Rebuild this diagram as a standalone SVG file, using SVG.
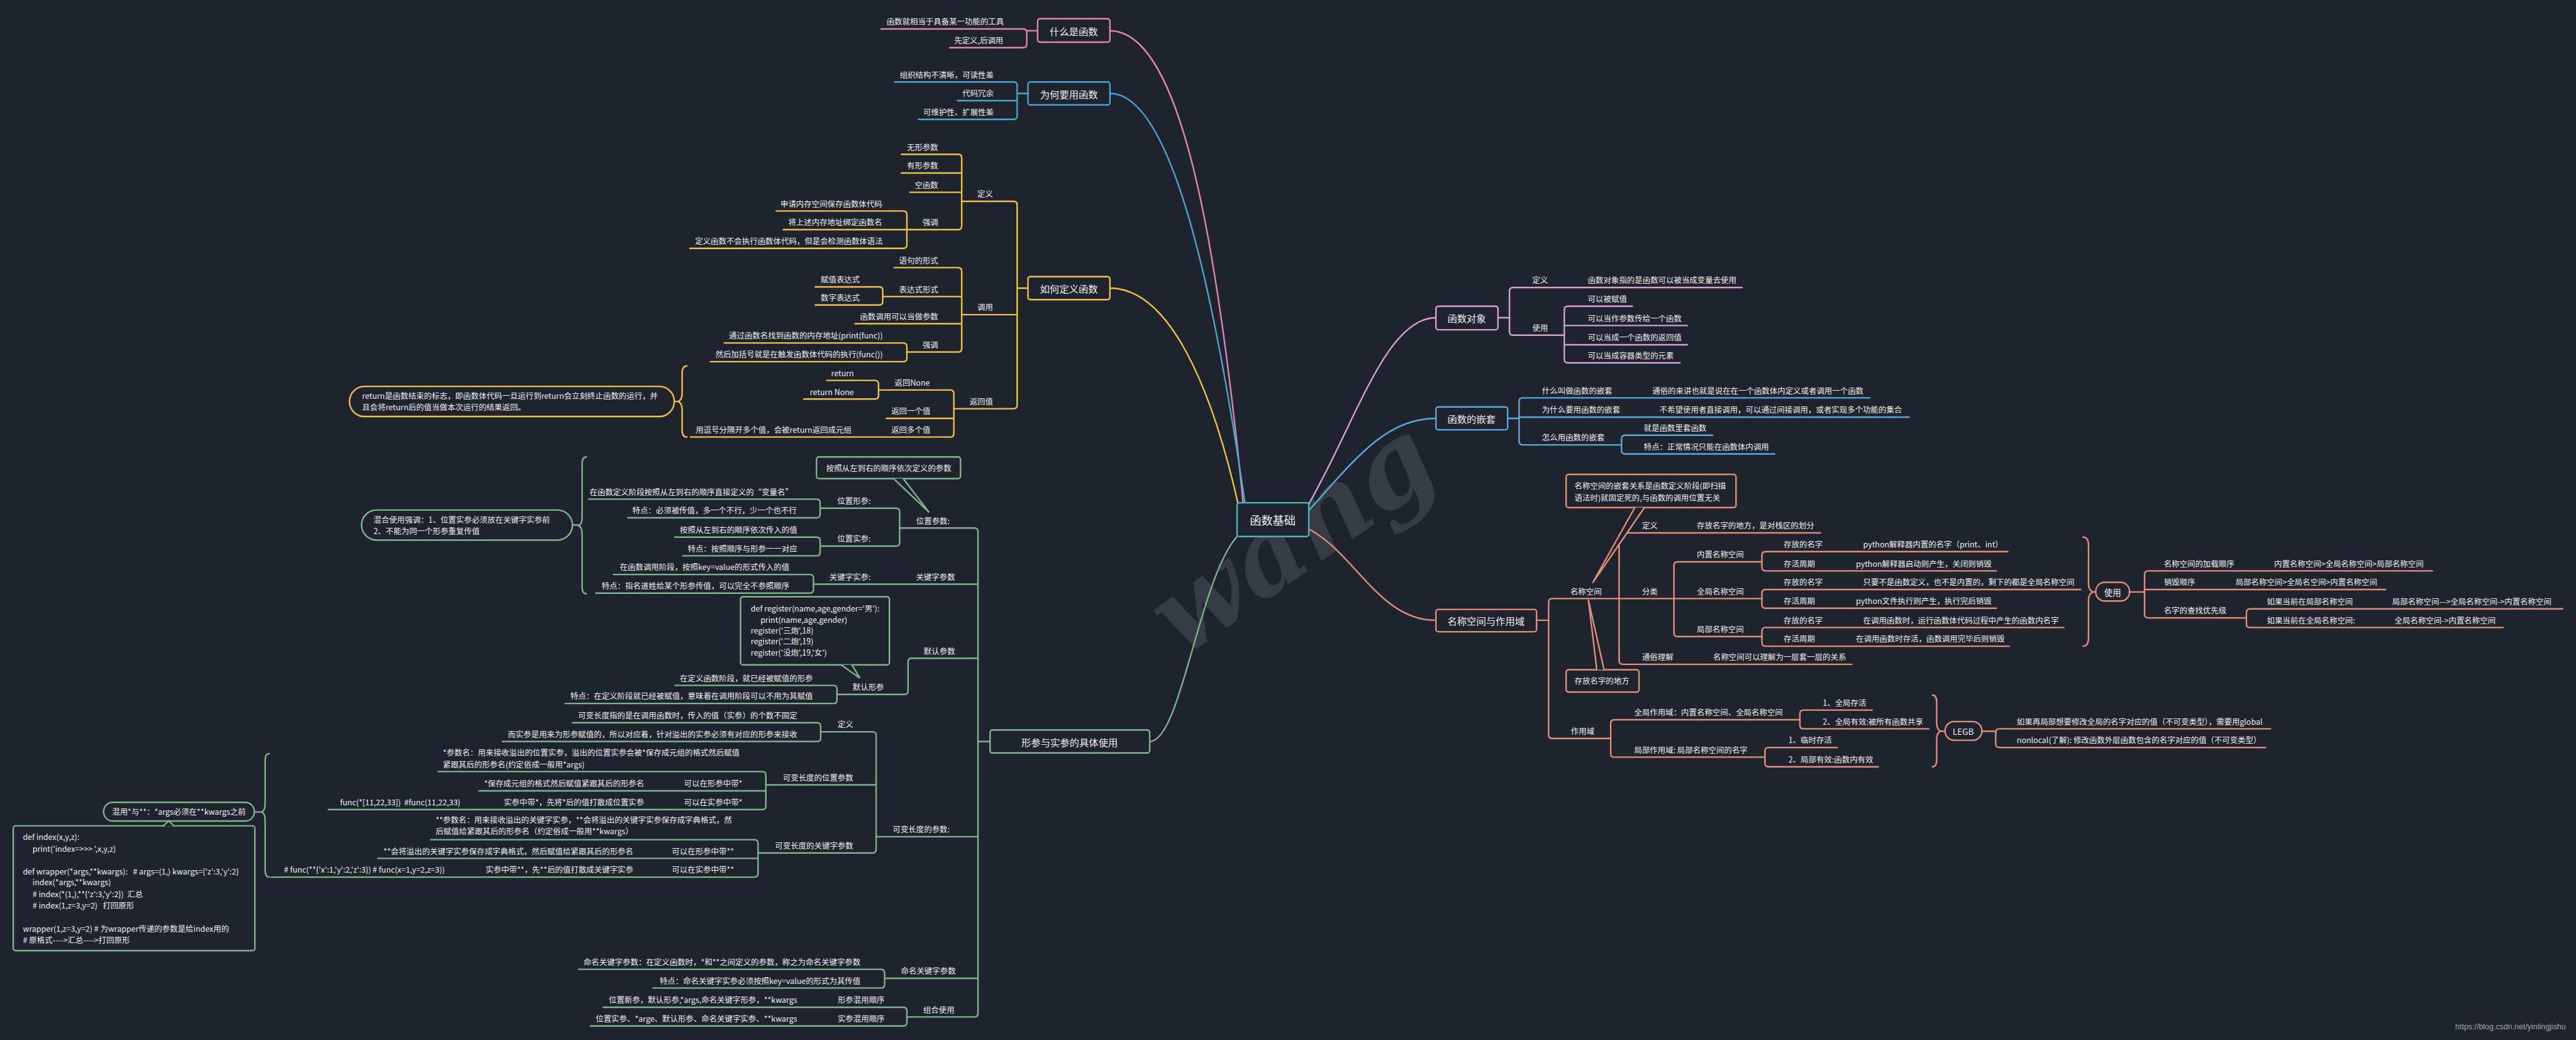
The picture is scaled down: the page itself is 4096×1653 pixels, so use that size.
<svg xmlns="http://www.w3.org/2000/svg" width="4096" height="1653" viewBox="0 0 4096 1653">
<defs>
<style>
.t{font-family:"Noto Sans CJK SC","Noto Sans",sans-serif;font-size:13px;fill:#f0f0f0}
.e{text-anchor:end}
.n{font-size:16px;text-anchor:middle;dominant-baseline:central}
.s{fill:none;stroke-width:2.5;stroke-linecap:round;stroke-linejoin:round}
.b{fill:#1f232e;stroke-width:2.5}
.c1{stroke:#e087b4}.c2{stroke:#4aa6cb}.c3{stroke:#f0c14b}.c4{stroke:#7fb48c}
.c5{stroke:#d6a2cc}.c6{stroke:#5aaadf}.c7{stroke:#df907b}.c0{stroke:#4db6bd}
</style>
</defs>
<rect width="4096" height="1653" fill="#1f232e"/>
<g transform="scale(0.95813)">
<text x="2150" y="950" transform="rotate(-35 2150 900)" font-family="DejaVu Serif" font-style="italic" font-weight="bold" font-size="180" fill="#373b44" text-anchor="middle">wang</text>

<g id="connectors" class="s">
<path class="c1" d="M1842 51 C1960 51 2020 400 2063 834"/>
<path class="c2" d="M1842 155 C1940 155 2010 450 2066 834"/>
<path class="c3" d="M1842 478 C1940 478 2010 640 2054 833"/>
<path class="c4" d="M2053 890 C1990 960 1960 1230 1908 1230"/>
<path class="c5" d="M2172 836 C2250 700 2300 527 2383 527"/>
<path class="c6" d="M2172 847 C2250 760 2300 694 2383 694"/>
<path class="c7" d="M2173 878 C2250 920 2290 1029 2382 1029"/>
<path class="c1" d="M1462 48 H1698 Q1704 48 1704 54 V73 Q1704 79 1698 79 H1576 M1704 51 H1722"/>
<path class="c2" d="M1485 136 H1682 Q1688 136 1688 142 V192 Q1688 198 1682 198 H1524 M1589 167 H1688 M1688 155 H1706"/>
<path class="c3" d="M1596 334 H1682 Q1688 334 1688 340 V672 Q1688 678 1682 678 H1583 M1596 522 H1688 M1688 478 H1706"/>
<path class="c3" d="M1496 256 H1590 Q1596 256 1596 262 V375 Q1596 381 1590 381 H1505 M1496 287 H1596 M1510 319 H1596"/>
<path class="c3" d="M1288 350 H1499 Q1505 350 1505 356 V406 Q1505 412 1499 412 H1145 M1300 381 H1505"/>
<path class="c3" d="M1484 444 H1590 Q1596 444 1596 450 V578 Q1596 584 1590 584 H1505 M1465 492 H1596 M1419 537 H1596"/>
<path class="c3" d="M1353 476 H1459 Q1465 476 1465 482 V500 Q1465 506 1459 506 H1353"/>
<path class="c3" d="M1202 569 H1499 Q1505 569 1505 575 V594 Q1505 600 1499 600 H1179"/>
<path class="c3" d="M1458 647 H1577 Q1583 647 1583 653 V719 Q1583 725 1577 725 H1146 M1471 694 H1583"/>
<path class="c3" d="M1372 631 H1452 Q1458 631 1458 637 V656 Q1458 662 1452 662 H1334"/>
<path class="c3" d="M1140 607 Q1132 607 1132 619 V652 Q1132 664 1125 666 Q1132 668 1132 680 V713 Q1132 725 1140 725 M1119 666 H1125"/>
<path class="c4" d="M1493 876 H1617 Q1623 876 1623 882 V1681 Q1623 1687 1617 1687 H1505 M1350 969 H1623 M1454 1388 H1623 M1468 1623 H1623 M1623 1230 H1643"/>
<path class="c4" d="M1623 1092 H1513 Q1507 1092 1507 1098 V1146 Q1507 1152 1501 1152 H1389"/>
<path class="c4" d="M1361 843 H1487 Q1493 843 1493 849 V900 Q1493 906 1487 906 H1361"/>
<path class="c4" d="M977 828 H1355 Q1361 828 1361 834 V853 Q1361 859 1355 859 H1042"/>
<path class="c4" d="M1120 891 H1355 Q1361 891 1361 897 V916 Q1361 922 1355 922 H1133"/>
<path class="c4" d="M1018 953 H1344 Q1350 953 1350 959 V978 Q1350 984 1344 984 H989"/>
<path class="c4" d="M1120 1137 H1383 Q1389 1137 1389 1143 V1161 Q1389 1167 1383 1167 H938"/>
<path class="c4" d="M1362 1214 H1448 Q1454 1214 1454 1220 V1409 Q1454 1415 1448 1415 H1258 M1271 1302 H1454"/>
<path class="c4" d="M950 1199 H1356 Q1362 1199 1362 1205 V1224 Q1362 1230 1356 1230 H834"/>
<path class="c4" d="M727 1280 H1265 Q1271 1280 1271 1286 V1337 Q1271 1343 1265 1343 H545 M795 1312 H1271"/>
<path class="c4" d="M715 1393 H1252 Q1258 1393 1258 1399 V1449 Q1258 1455 1252 1455 H450 M627 1424 H1258"/>
<path class="c4" d="M960 1608 H1462 Q1468 1608 1468 1614 V1633 Q1468 1639 1462 1639 H1084"/>
<path class="c4" d="M1001 1671 H1499 Q1505 1671 1505 1677 V1696 Q1505 1702 1499 1702 H980"/>
<path class="c4" d="M973 758 Q966 758 966 770 V858 Q966 870 960 872 Q966 874 966 886 V973 Q966 985 973 985 M950 871 H960"/>
<path class="c4" d="M447 1250 Q440 1250 440 1262 V1333 Q440 1345 434 1347 Q440 1349 440 1361 V1443 Q440 1455 447 1455 M422 1347 H434"/>
<path class="c5" d="M2891 477 H2511 Q2505 477 2505 483 V550 Q2505 556 2511 556 H2596 M2486 527 H2505"/>
<path class="c5" d="M2709 508 H2602 Q2596 508 2596 514 V596 Q2596 602 2602 602 H2788 M2596 540 H2800 M2596 572 H2800"/>
<path class="c6" d="M3103 660 H2527 Q2521 660 2521 666 V732 Q2521 738 2527 738 H2691 M2521 692 H3168 M2502 694 H2521"/>
<path class="c6" d="M2842 722 H2697 Q2691 722 2691 728 V747 Q2691 753 2697 753 H2945"/>
<path class="c7" d="M2687 993 H2576 Q2570 993 2570 999 V1219 Q2570 1225 2576 1225 H2673 M2550 1029 H2570"/>
<path class="c7" d="M3021 884 H2693 Q2687 884 2687 890 V1096 Q2687 1102 2693 1102 H3073 M2687 993 H2778"/>
<path class="c7" d="M2924 932 H2784 Q2778 932 2778 938 V1050 Q2778 1056 2784 1056 H2924 M2778 993 H2924"/>
<path class="c7" d="M3332 915 H2930 Q2924 915 2924 921 V941 Q2924 947 2930 947 H3313"/>
<path class="c7" d="M3453 978 H2930 Q2924 978 2924 984 V1003 Q2924 1009 2930 1009 H3313"/>
<path class="c7" d="M3425 1041 H2930 Q2924 1041 2924 1047 V1066 Q2924 1072 2930 1072 H3334"/>
<path class="c7" d="M2987 1194 H2679 Q2673 1194 2673 1200 V1250 Q2673 1256 2679 1256 H2929"/>
<path class="c7" d="M3107 1178 H2993 Q2987 1178 2987 1184 V1203 Q2987 1209 2993 1209 H3201"/>
<path class="c7" d="M3049 1240 H2935 Q2929 1240 2929 1246 V1266 Q2929 1272 2935 1272 H3117"/>
<path class="c7" d="M3207 1153 Q3214 1153 3214 1165 V1199 Q3214 1211 3221 1213 Q3214 1215 3214 1227 V1260 Q3214 1272 3207 1272 M3221 1213 H3228 M3289 1213 H3312"/>
<path class="c7" d="M3768 1209 H3318 Q3312 1209 3312 1215 V1234 Q3312 1240 3318 1240 H3760"/>
<path class="c7" d="M3457 891 Q3466 891 3466 905 V968 Q3466 980 3474 982 Q3466 984 3466 996 V1058 Q3466 1072 3457 1072 M3474 982 H3478 M3534 982 H3559"/>
<path class="c7" d="M4037 947 H3565 Q3559 947 3559 953 V1019 Q3559 1025 3565 1025 H3728 M3559 978 H3959"/>
<path class="c7" d="M4253 1010 H3734 Q3728 1010 3728 1016 V1035 Q3728 1041 3734 1041 H4154"/>
</g>

<g id="root">
<rect class="b c0" x="2053" y="834" width="119" height="56" rx="4"/>
<text class="t n" x="2112" y="862" style="font-size:19px">函数基础</text>
</g>

<g id="what">
<rect class="b c1" x="1722" y="31" width="120" height="39" rx="4"/>
<text class="t n" x="1782" y="51">什么是函数</text>
<text class="t e" x="1666" y="41">函数就相当于具备某一功能的工具</text>
<text class="t e" x="1665" y="72">先定义,后调用</text>
</g>

<g id="why">
<rect class="b c2" x="1706" y="136" width="136" height="38" rx="4"/>
<text class="t n" x="1774" y="155">为何要用函数</text>
<text class="t e" x="1649" y="129">组织结构不清晰，可读性差</text>
<text class="t e" x="1649" y="160">代码冗余</text>
<text class="t e" x="1649" y="191">可维护性、扩展性差</text>
</g>

<g id="define">
<rect class="b c3" x="1706" y="459" width="136" height="38" rx="4"/>
<text class="t n" x="1774" y="478">如何定义函数</text>
<text class="t e" x="1648" y="327">定义</text>
<text class="t e" x="1648" y="515">调用</text>
<text class="t e" x="1648" y="671">返回值</text>
<text class="t e" x="1557" y="249">无形参数</text>
<text class="t e" x="1557" y="280">有形参数</text>
<text class="t e" x="1557" y="312">空函数</text>
<text class="t e" x="1557" y="374">强调</text>
<text class="t e" x="1464" y="343">申请内存空间保存函数体代码</text>
<text class="t e" x="1464" y="374">将上述内存地址绑定函数名</text>
<text class="t e" x="1465" y="405">定义函数不会执行函数体代码，但是会检测函数体语法</text>
<text class="t e" x="1557" y="437">语句的形式</text>
<text class="t e" x="1557" y="485">表达式形式</text>
<text class="t e" x="1557" y="530">函数调用可以当做参数</text>
<text class="t e" x="1557" y="577">强调</text>
<text class="t e" x="1427" y="469">赋值表达式</text>
<text class="t e" x="1427" y="499">数字表达式</text>
<text class="t e" x="1465" y="562">通过函数名找到函数的内存地址(print(func))</text>
<text class="t e" x="1465" y="593">然后加括号就是在触发函数体代码的执行(func())</text>
<text class="t e" x="1543" y="640">返回None</text>
<text class="t e" x="1544" y="687">返回一个值</text>
<text class="t e" x="1544" y="718">返回多个值</text>
<text class="t e" x="1413" y="718">用逗号分隔开多个值，会被return返回成元组</text>
<text class="t e" x="1417" y="624">return</text>
<text class="t e" x="1417" y="655">return None</text>
<rect class="b c3" x="580" y="641" width="539" height="50" rx="25"/>
<text class="t" x="601" y="662">return是函数结束的标志，即函数体代码一旦运行到return会立刻终止函数的运行，并</text>
<text class="t" x="601" y="681">且会将return后的值当做本次运行的结果返回。</text>
</g>

<g id="params">
<rect class="b c4" x="1643" y="1211" width="265" height="38" rx="4"/>
<text class="t n" x="1775" y="1230">形参与实参的具体使用</text>
<text class="t e" x="1576" y="869">位置参数:</text>
<text class="t e" x="1445" y="836">位置形参:</text>
<text class="t e" x="1316" y="821">在函数定义阶段按照从左到右的顺序直接定义的“变量名”</text>
<text class="t e" x="1322" y="852">特点：必须被传值，多一个不行，少一个也不行</text>
<text class="t e" x="1445" y="899">位置实参:</text>
<text class="t e" x="1323" y="884">按照从左到右的顺序依次传入的值</text>
<text class="t e" x="1323" y="915">特点：按照顺序与形参一一对应</text>
<text class="t e" x="1585" y="962">关键字参数</text>
<text class="t e" x="1445" y="962">关键字实参:</text>
<text class="t e" x="1310" y="946">在函数调用阶段，按照key=value的形式传入的值</text>
<text class="t e" x="1310" y="977">特点：指名道姓给某个形参传值，可以完全不参照顺序</text>
<text class="t e" x="1585" y="1085">默认参数</text>
<text class="t e" x="1467" y="1145">默认形参</text>
<text class="t e" x="1349" y="1130">在定义函数阶段，就已经被赋值的形参</text>
<text class="t e" x="1349" y="1160">特点：在定义阶段就已经被赋值，意味着在调用阶段可以不用为其赋值</text>
<text class="t e" x="1576" y="1381">可变长度的参数:</text>
<text class="t e" x="1416" y="1207">定义</text>
<text class="t e" x="1323" y="1192">可变长度指的是在调用函数时，传入的值（实参）的个数不固定</text>
<text class="t e" x="1323" y="1223">而实参是用来为形参赋值的，所以对应着，针对溢出的实参必须有对应的形参来接收</text>
<text class="t e" x="1416" y="1295">可变长度的位置参数</text>
<text class="t" x="735" y="1253">*参数名：用来接收溢出的位置实参，溢出的位置实参会被*保存成元组的格式然后赋值</text>
<text class="t" x="735" y="1273">紧跟其后的形参名(约定俗成一般用*args)</text>
<text class="t e" x="1232" y="1305">可以在形参中带*</text>
<text class="t e" x="1069" y="1305">*保存成元组的格式然后赋值紧跟其后的形参名</text>
<text class="t e" x="1232" y="1336">可以在实参中带*</text>
<text class="t e" x="1069" y="1336">实参中带*，先将*后的值打散成位置实参</text>
<text class="t e" x="764" y="1336" xml:space="preserve">func(*[11,22,33])  #func(11,22,33)</text>
<text class="t e" x="1416" y="1408">可变长度的关键字参数</text>
<text class="t" x="723" y="1365">**参数名：用来接收溢出的关键字实参，**会将溢出的关键字实参保存成字典格式，然</text>
<text class="t" x="723" y="1384">后赋值给紧跟其后的形参名（约定俗成一般用**kwargs）</text>
<text class="t e" x="1218" y="1417">可以在形参中带**</text>
<text class="t e" x="1051" y="1417">**会将溢出的关键字实参保存成字典格式，然后赋值给紧跟其后的形参名</text>
<text class="t e" x="1218" y="1448">可以在实参中带**</text>
<text class="t e" x="1051" y="1448">实参中带**，先**后的值打散成关键字实参</text>
<text class="t e" x="738" y="1448"># func(**{'x':1,'y':2,'z':3}) # func(x=1,y=2,z=3))</text>
<text class="t e" x="1586" y="1616">命名关键字参数</text>
<text class="t e" x="1428" y="1601">命名关键字参数：在定义函数时，*和**之间定义的参数，称之为命名关键字参数</text>
<text class="t e" x="1428" y="1632">特点：命名关键字实参必须按照key=value的形式为其传值</text>
<text class="t e" x="1584" y="1680">组合使用</text>
<text class="t e" x="1468" y="1664">形参混用顺序</text>
<text class="t e" x="1323" y="1664">位置新参，默认形参,*args,命名关键字形参，**kwargs</text>
<text class="t e" x="1468" y="1695">实参混用顺序</text>
<text class="t e" x="1323" y="1695">位置实参、*arge、默认形参、命名关键字实参、**kwargs</text>
<rect class="b c4" x="1355" y="758" width="239" height="36" rx="4"/>
<path class="b c4" d="M1483 794 L1542 850 L1499 794"/>
<text class="t n" x="1475" y="776" style="font-size:13px">按照从左到右的顺序依次定义的参数</text>
<rect class="b c4" x="1229" y="990" width="247" height="113" rx="4"/>
<path class="b c4" d="M1396 1103 L1427 1125 L1414 1103"/>
<text class="t" x="1246" y="1014">def register(name,age,gender='男'):</text>
<text class="t" x="1262" y="1033">print(name,age,gender)</text>
<text class="t" x="1246" y="1051">register('三炮',18)</text>
<text class="t" x="1246" y="1069">register('二炮',19)</text>
<text class="t" x="1246" y="1088">register('没炮',19,'女')</text>
<rect class="b c4" x="600" y="846" width="350" height="50" rx="25"/>
<text class="t" x="620" y="867">混合使用强调：1、位置实参必须放在关键字实参前</text>
<text class="t" x="620" y="886">2、不能为同一个形参重复传值</text>
<rect class="b c4" x="172" y="1331" width="250" height="31" rx="15"/>
<text class="t" x="186" y="1352">混用*与**：*args必须在**kwargs之前</text>
<rect class="b c4" x="22" y="1370" width="401" height="207" rx="4"/>
<path class="b c4" d="M270 1371 L280 1362 L290 1371"/>
<text class="t" x="38" y="1393">def index(x,y,z):</text>
<text class="t" x="54" y="1413">print('index=&gt;&gt;&gt; ',x,y,z)</text>
<text class="t" x="38" y="1451" xml:space="preserve">def wrapper(*args,**kwargs):   # args=(1,) kwargs={'z':3,'y':2}</text>
<text class="t" x="54" y="1469">index(*args,**kwargs)</text>
<text class="t" x="54" y="1488" xml:space="preserve"># index(*(1,),**{'z':3,'y':2})  汇总</text>
<text class="t" x="54" y="1507" xml:space="preserve"># index(1,z=3,y=2)   打回原形</text>
<text class="t" x="38" y="1546">wrapper(1,z=3,y=2) # 为wrapper传递的参数是给index用的</text>
<text class="t" x="38" y="1564"># 原格式----&gt;汇总----&gt;打回原形</text>
</g>

<g id="funcobj">
<rect class="b c5" x="2383" y="508" width="103" height="39" rx="4"/>
<text class="t n" x="2434" y="527">函数对象</text>
<text class="t" x="2543" y="470">定义</text>
<text class="t" x="2635" y="470">函数对象指的是函数可以被当成变量去使用</text>
<text class="t" x="2543" y="549">使用</text>
<text class="t" x="2635" y="501">可以被赋值</text>
<text class="t" x="2635" y="533">可以当作参数传给一个函数</text>
<text class="t" x="2635" y="565">可以当成一个函数的返回值</text>
<text class="t" x="2635" y="595">可以当成容器类型的元素</text>
</g>

<g id="nested">
<rect class="b c6" x="2383" y="675" width="119" height="38" rx="4"/>
<text class="t n" x="2442" y="694">函数的嵌套</text>
<text class="t" x="2559" y="653">什么叫做函数的嵌套</text>
<text class="t" x="2742" y="653">通俗的来讲也就是说在在一个函数体内定义或者调用一个函数</text>
<text class="t" x="2559" y="685">为什么要用函数的嵌套</text>
<text class="t" x="2754" y="685">不希望使用者直接调用，可以通过间接调用，或者实现多个功能的集合</text>
<text class="t" x="2559" y="731">怎么用函数的嵌套</text>
<text class="t" x="2728" y="715">就是函数里套函数</text>
<text class="t" x="2728" y="746">特点：正常情况只能在函数体内调用</text>
</g>

<g id="namespace">
<rect class="b c7" x="2383" y="1011" width="167" height="37" rx="4"/>
<text class="t n" x="2466" y="1029">名称空间与作用域</text>
<text class="t" x="2606" y="986">名称空间</text>
<text class="t" x="2725" y="877">定义</text>
<text class="t" x="2816" y="877">存放名字的地方，是对栈区的划分</text>
<text class="t" x="2725" y="986">分类</text>
<text class="t" x="2816" y="925">内置名称空间</text>
<text class="t" x="2960" y="908">存放的名字</text>
<text class="t" x="3092" y="908">python解释器内置的名字（print、int）</text>
<text class="t" x="2960" y="940">存活周期</text>
<text class="t" x="3080" y="940">python解释器启动则产生，关闭则销毁</text>
<text class="t" x="2816" y="986">全局名称空间</text>
<text class="t" x="2960" y="971">存放的名字</text>
<text class="t" x="3092" y="971">只要不是函数定义，也不是内置的，剩下的都是全局名称空间</text>
<text class="t" x="2960" y="1002">存活周期</text>
<text class="t" x="3080" y="1002">python文件执行则产生，执行完后销毁</text>
<text class="t" x="2816" y="1049">局部名称空间</text>
<text class="t" x="2960" y="1034">存放的名字</text>
<text class="t" x="3092" y="1034">在调用函数时，运行函数体代码过程中产生的函数内名字</text>
<text class="t" x="2960" y="1065">存活周期</text>
<text class="t" x="3080" y="1065">在调用函数时存活，函数调用完毕后则销毁</text>
<text class="t" x="2725" y="1095">通俗理解</text>
<text class="t" x="2843" y="1095">名称空间可以理解为一层套一层的关系</text>
<text class="t" x="2607" y="1218">作用域</text>
<text class="t" x="2712" y="1187">全局作用域：内置名称空间、全局名称空间</text>
<text class="t" x="3025" y="1171">1、全局存活</text>
<text class="t" x="3025" y="1202">2、全局有效:被所有函数共享</text>
<text class="t" x="2712" y="1249">局部作用域: 局部名称空间的名字</text>
<text class="t" x="2968" y="1233">1、临时存活</text>
<text class="t" x="2968" y="1265">2、局部有效:函数内有效</text>
<rect class="b c7" x="3228" y="1197" width="61" height="31" rx="15"/>
<text class="t n" x="3258" y="1213" style="font-size:14px">LEGB</text>
<text class="t" x="3347" y="1202">如果再局部想要修改全局的名字对应的值（不可变类型），需要用global</text>
<text class="t" x="3347" y="1233">nonlocal(了解): 修改函数外层函数包含的名字对应的值（不可变类型）</text>
<rect class="b c7" x="3478" y="966" width="56" height="31" rx="15"/>
<text class="t n" x="3506" y="982" style="font-size:14px">使用</text>
<text class="t" x="3591" y="940">名称空间的加载顺序</text>
<text class="t" x="3774" y="940">内置名称空间&gt;全局名称空间&gt;局部名称空间</text>
<text class="t" x="3591" y="971">销毁顺序</text>
<text class="t" x="3710" y="971">局部名称空间&gt;全局名空间&gt;内置名称空间</text>
<text class="t" x="3591" y="1018">名字的查找优先级</text>
<text class="t" x="3762" y="1003">如果当前在局部名称空间</text>
<text class="t" x="3970" y="1003">局部名称空间—&gt;全局名称空间-&gt;内置名称空间</text>
<text class="t" x="3762" y="1034">如果当前在全局名称空间:</text>
<text class="t" x="3974" y="1034">全局名称空间-&gt;内置名称空间</text>
<rect class="b c7" x="2599" y="787" width="282" height="55" rx="4"/>
<path class="b c7" d="M2713 842 L2643 967 L2729 842"/>
<text class="t" x="2613" y="811">名称空间的嵌套关系是函数定义阶段(即扫描</text>
<text class="t" x="2613" y="831">语法时)就固定死的,与函数的调用位置无关</text>
<rect class="b c7" x="2599" y="1111" width="121" height="37" rx="4"/>
<path class="b c7" d="M2650 1111 L2636 995 L2662 1111"/>
<text class="t" x="2613" y="1134">存放名字的地方</text>
</g>

<text x="4258" y="1707" font-family="Liberation Sans, sans-serif" font-size="13" fill="#a8a8a8" text-anchor="end">https://blog.csdn.net/yinlingjishu</text>
</g>
</svg>
